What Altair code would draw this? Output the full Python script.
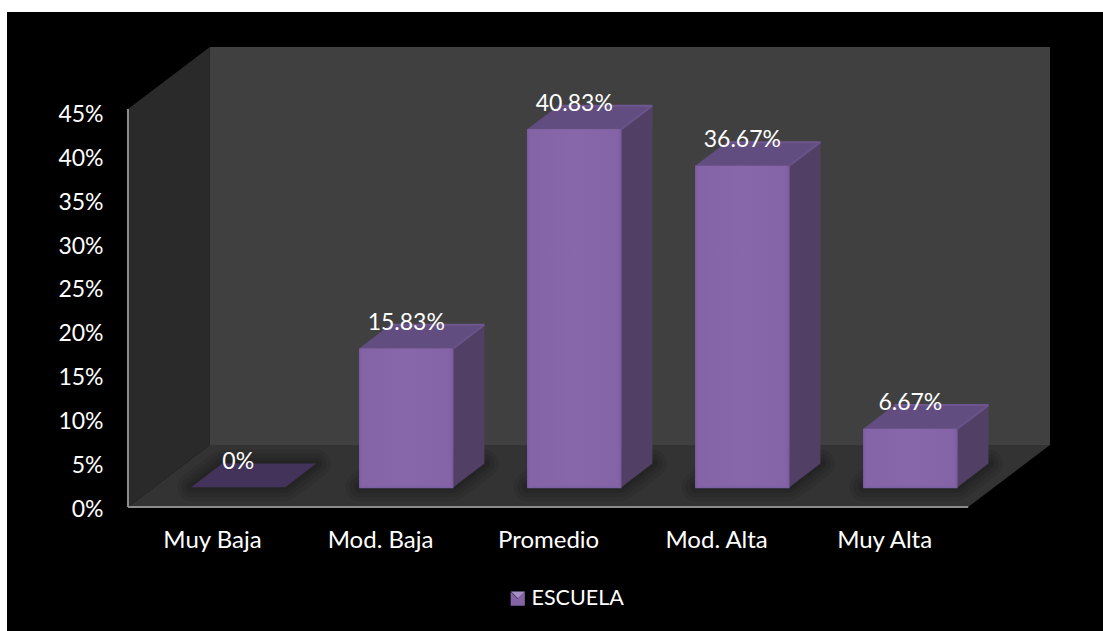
import altair as alt
import pandas as pd

# Chart values
categories = ["Muy Baja", "Mod. Baja", "Promedio", "Mod. Alta", "Muy Alta"]
values = [0, 15.83, 40.83, 36.67, 6.67]
value_labels = ["0%", "15.83%", "40.83%", "36.67%", "6.67%"]
series_name = "ESCUELA"
y_ticks = [0, 5, 10, 15, 20, 25, 30, 35, 40, 45]

# Oblique projection of the box: how far one unit of depth moves a point,
# in category units across and percentage points up
DEPTH_X = 82 / 168.4
DEPTH_Y = 62 / 8.76
WALL_TOP = 45.4
BOX_W = 5.0
BAR_W = 0.56
BAR_DEPTH_FRONT = 0.32
BAR_DEPTH_BACK = 0.70

FRONT = "#8464a6"
TOP = "#624d80"
SIDE = "#523f66"
FLAT = "#43325a"
WALL_BACK = "#404040"
WALL_LEFT = "#2a2a2a"
FLOOR = "#333333"
AXIS_GREY = "#8c8c8c"
FONT = "Lato"
FONT_SIZE = 23

PLOT_W = 922
PLOT_H = 460
x_scale = alt.Scale(domain=[0, BOX_W + DEPTH_X], nice=False, zero=False)
y_scale = alt.Scale(domain=[0, WALL_TOP + DEPTH_Y], nice=False, zero=False)

# The same axis definition goes on every layer so that they merge into one pair of axes;
# zindex lifts the labels above the black panel
x_axis = alt.Axis(
    values=[i + 0.5 for i in range(len(categories))],
    labelExpr="{}[floor(datum.value)]".format(categories),
    title=None,
    domain=False,
    ticks=False,
    grid=False,
    labelFont=FONT,
    labelFontSize=24,
    labelColor="white",
    labelPadding=21,
    zindex=1,
)
y_axis = alt.Axis(
    values=y_ticks,
    labelExpr="datum.value + '%'",
    title=None,
    domain=False,
    ticks=False,
    grid=False,
    labelFont=FONT,
    labelFontSize=FONT_SIZE,
    labelColor="white",
    labelPadding=25,
    labelOffset=2,
    zindex=1,
)
X = alt.X("x:Q", scale=x_scale, axis=x_axis)
Y = alt.Y("y:Q", scale=y_scale, axis=y_axis)


def px(c, d):
    return c + d * DEPTH_X


def py(v, d):
    return v + d * DEPTH_Y


def vertical_face(rows, fill, **mark):
    """Quad with two upright edges; rows hold x, y, y2 and a group key."""
    return (
        alt.Chart(pd.DataFrame(rows))
        .mark_area(fill=fill, clip=False, interpolate="linear", **mark)
        .encode(x=X, y=Y, y2="y2:Q", detail="g:N")
    )


def horizontal_face(rows, fill, **mark):
    """Quad with two level edges; rows hold y, x, x2 and a group key."""
    return (
        alt.Chart(pd.DataFrame(rows))
        .mark_area(fill=fill, orient="horizontal", clip=False, interpolate="linear", **mark)
        .encode(y=Y, x=X, x2="x2:Q", detail="g:N")
    )


# Black panel behind everything, leaving a thin white margin top and left
panel = alt.Chart(pd.DataFrame({"a": [0]})).mark_rect(color="black", clip=False).encode(
    x=alt.value(-121), x2=alt.value(975), y=alt.value(-35), y2=alt.value(584)
)

# Box walls and floor
left_wall = vertical_face(
    [
        {"x": 0, "y": 0, "y2": WALL_TOP, "g": 0},
        {"x": DEPTH_X, "y": py(0, 1), "y2": py(WALL_TOP, 1), "g": 0},
    ],
    WALL_LEFT,
)
back_wall = vertical_face(
    [
        {"x": DEPTH_X, "y": py(0, 1), "y2": py(WALL_TOP, 1), "g": 0},
        {"x": px(BOX_W, 1), "y": py(0, 1), "y2": py(WALL_TOP, 1), "g": 0},
    ],
    WALL_BACK,
)
floor = horizontal_face(
    [
        {"y": 0, "x": 0, "x2": BOX_W, "g": 0},
        {"y": py(0, 1), "x": DEPTH_X, "x2": px(BOX_W, 1), "g": 0},
    ],
    FLOOR,
)

# Per-bar geometry
top_rows, side_rows, flat_rows, foot_rows, front_rows, label_rows = [], [], [], [], [], []
rim_rows, diag_rows = [], []
for i, (name, v, lab) in enumerate(zip(categories, values, value_labels)):
    c0 = i + 0.5 - BAR_W / 2
    c1 = i + 0.5 + BAR_W / 2
    df, db = BAR_DEPTH_FRONT, BAR_DEPTH_BACK
    foot_rows += [
        {"y": py(0, df), "x": px(c0, df), "x2": px(c1, df), "g": i},
        {"y": py(0, db), "x": px(c0, db), "x2": px(c1, db), "g": i},
    ]
    label_rows.append({"x": px(i + 0.5, df), "y": py(v, df), "t": lab})
    if v == 0:
        flat_rows += foot_rows[-2:]
        continue
    top_rows += [
        {"y": py(v, df), "x": px(c0, df), "x2": px(c1, df), "g": i},
        {"y": py(v, db), "x": px(c0, db), "x2": px(c1, db), "g": i},
    ]
    side_rows += [
        {"x": px(c1, df), "y": py(0, df), "y2": py(v, df), "g": i},
        {"x": px(c1, db), "y": py(0, db), "y2": py(v, db), "g": i},
    ]
    front_rows.append(
        {"x": px(c0, df), "x2": px(c1, df), "y": py(0, df), "y2": py(v, df), "s": series_name}
    )
    rim_rows.append({"x": px(c0, db), "x2": px(c1, db), "y": py(v, db), "g": i})
    diag_rows += [
        {"x": px(c1, df), "y": py(v, df), "g": i},
        {"x": px(c1, db), "y": py(v, db), "g": i},
    ]

# Soft contact shadow under the bars, built from stacked translucent outlines
shadows = [
    horizontal_face(foot_rows, "#000000", opacity=0.07, stroke="#000000", strokeWidth=w, strokeJoin="round")
    for w in (28, 20, 12, 6)
]

flat_face = horizontal_face(flat_rows, FLAT)
top_faces = horizontal_face(top_rows, TOP)
side_faces = vertical_face(side_rows, SIDE)

# Legend key is a square with a notch on top; the lighter facet below shows through the notch
front_faces = (
    alt.Chart(pd.DataFrame(front_rows))
    .mark_rect(clip=False)
    .encode(
        x=X,
        x2="x2:Q",
        y=Y,
        y2="y2:Q",
        color=alt.Color(
            "s:N",
            scale=alt.Scale(domain=[series_name], range=[FRONT]),
            legend=alt.Legend(
                title=None,
                orient="none",
                legendX=379,
                legendY=541,
                symbolType="M-1,-1L0,0L1,-1L1,1L-1,1Z",
                symbolSize=200,
                labelFont=FONT,
                labelFontSize=21.5,
                labelOffset=3,
                labelColor="white",
            ),
        ),
    )
)
legend_facet = (
    alt.Chart(pd.DataFrame({"a": [0]}))
    .mark_point(shape="M-1,-1L1,-1L0,0Z", filled=True, fill="#a48fc6", opacity=1, size=200, clip=False)
    .encode(x=alt.value(390), y=alt.value(551.5))
)

# Bevel highlights along the box edges of each bar
front_shade = (
    alt.Chart(pd.DataFrame(front_rows))
    .mark_rect(
        clip=False,
        fill=alt.LinearGradient(
            gradient="linear",
            stops=[
                alt.GradientStop(color="#7a5c9e", offset=0),
                alt.GradientStop(color="#8464a6", offset=0.03),
                alt.GradientStop(color="#8767aa", offset=0.5),
                alt.GradientStop(color="#8464a6", offset=0.96),
                alt.GradientStop(color="#7a5c9e", offset=1),
            ],
            x1=0,
            x2=1,
            y1=0,
            y2=0,
        ),
    )
    .encode(x=X, x2="x2:Q", y=Y, y2="y2:Q")
)
front_rim = (
    alt.Chart(pd.DataFrame(front_rows))
    .mark_rule(color="#7d5fa3", strokeWidth=2, clip=False)
    .encode(x=X, x2="x2:Q", y=Y)
)
top_rim = (
    alt.Chart(pd.DataFrame(rim_rows))
    .mark_rule(color="#6e5790", strokeWidth=2, clip=False)
    .encode(x=X, x2="x2:Q", y=Y)
)
top_diagonal = (
    alt.Chart(pd.DataFrame(diag_rows))
    .mark_line(color="#6a5389", strokeWidth=2, clip=False, interpolate="linear")
    .encode(x=X, y=Y, detail="g:N")
)

# Percentage axis and category baseline on the front edges of the box
axis_y_line = (
    alt.Chart(pd.DataFrame({"x": [0], "y": [0], "y2": [WALL_TOP]}))
    .mark_rule(color=AXIS_GREY, strokeWidth=2, clip=False)
    .encode(x=X, y=Y, y2="y2:Q")
)
axis_x_line = (
    alt.Chart(pd.DataFrame({"x": [0], "x2": [BOX_W], "y": [0]}))
    .mark_rule(color=AXIS_GREY, strokeWidth=2, clip=False)
    .encode(x=X, x2="x2:Q", y=Y)
)

value_text = (
    alt.Chart(pd.DataFrame(label_rows))
    .mark_text(color="white", font=FONT, fontSize=FONT_SIZE, dy=-25.5, baseline="middle", align="center", clip=False)
    .encode(x=X, y=Y, text="t:N")
)

chart = (
    alt.layer(
        panel,
        left_wall,
        back_wall,
        floor,
        *shadows,
        flat_face,
        top_faces,
        side_faces,
        front_faces,
        front_shade,
        front_rim,
        top_rim,
        top_diagonal,
        axis_y_line,
        axis_x_line,
        value_text,
        legend_facet,
    )
    .properties(
        width=PLOT_W,
        height=PLOT_H,
        background="white",
        padding={"left": 128, "top": 47, "right": 53, "bottom": 124},
        autosize=alt.AutoSizeParams(type="none"),
    )
    .configure_view(stroke=None)
)

chart.save("out.html", embed_options={"renderer": "svg", "actions": False})
